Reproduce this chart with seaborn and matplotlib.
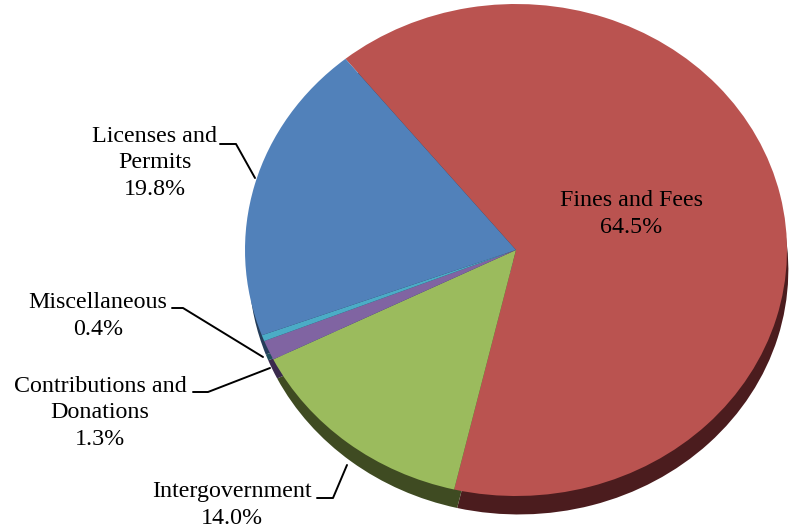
import matplotlib
matplotlib.use("Agg")
import matplotlib.pyplot as plt
import seaborn as sns

# ---- data ----
categories = ["Fines and Fees", "Intergovernment", "Contributions and Donations",
              "Miscellaneous", "Licenses and Permits"]
display_names = ["Fines and Fees", "Intergovernment", "Contributions and\nDonations",
                 "Miscellaneous", "Licenses and\nPermits"]
values = [64.5, 14.0, 1.3, 0.4, 19.8]

# ---- styles ----
top_colors = ["#BA5350", "#9BBB5D", "#8064A2", "#4BACC6", "#5181BA"]
side_colors = ["#4B1C1E", "#3F4B22", "#3A2A4D", "#1F4F5C", "#243D5A"]

sns.set_style("white")
plt.rcParams["font.family"] = ["Liberation Serif", "DejaVu Serif"]

W, H = 793, 531
fig = plt.figure(figsize=(W / 100, H / 100), dpi=100)
fig.patch.set_facecolor("white")

# pie axes (ellipse bounds in pixels)
left_px, right_px, top_px, bottom_px = 245, 787, 4, 496
ax = fig.add_axes([left_px / W, 1 - bottom_px / H,
                   (right_px - left_px) / W, (bottom_px - top_px) / H])

# depth layer
ax.pie(values, colors=side_colors, startangle=129, counterclock=False,
       center=(0.01, -0.08), radius=0.995, wedgeprops=dict(linewidth=0))
# top surface
ax.pie(values, colors=top_colors, startangle=129, counterclock=False,
       center=(0, 0), radius=1, wedgeprops=dict(linewidth=0))
ax.set_aspect("auto")
ax.set_xlim(-1, 1)
ax.set_ylim(-1, 1)
ax.axis("off")

# overlay axes in pixel coordinates for labels
ov = fig.add_axes([0, 0, 1, 1], zorder=5)
ov.set_xlim(0, W)
ov.set_ylim(H, 0)
ov.axis("off")
ov.patch.set_alpha(0)

fs = 17.3
label_pos = {
    "Fines and Fees": (631, 214),
    "Licenses and Permits": (155, 163),
    "Miscellaneous": (98, 316),
    "Contributions and Donations": (100, 413),
    "Intergovernment": (232, 505),
}
leaders = {
    "Licenses and Permits": [(220, 144), (236, 144), (255, 178)],
    "Miscellaneous": [(172, 308), (183, 308), (263, 357)],
    "Contributions and Donations": [(193, 392), (208, 392), (270, 368)],
    "Intergovernment": [(317, 498), (333, 498), (347, 465)],
}

for cat, name, val in zip(categories, display_names, values):
    x, y = label_pos[cat]
    ov.text(x, y, f"{name}\n{val:.1f}%", ha="center", va="center",
            fontsize=fs, color="black", linespacing=1.35)
    if cat in leaders:
        pts = leaders[cat]
        ov.plot([p[0] for p in pts], [p[1] for p in pts], color="black", lw=1.4)

fig.savefig("out.png", dpi=100, facecolor="white")
